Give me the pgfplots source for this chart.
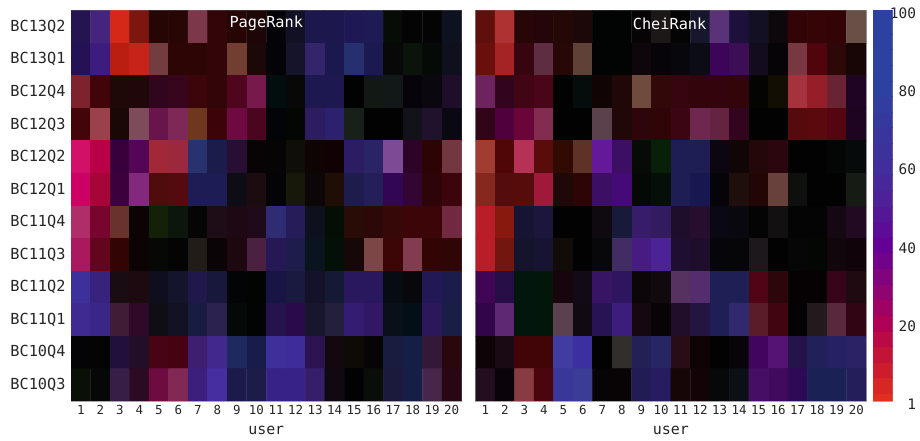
\documentclass[border=0pt]{standalone}
\usepackage{fontspec}
\setmainfont{DejaVu Sans Mono}
\usepackage{pgfplots}
\usepackage{pgfplotstable}
\pgfplotsset{compat=1.18}

\pgfplotstableread{
x y r g b
1 0 36 20 80
2 0 68 36 125
3 0 214 40 24
4 0 125 22 15
5 0 38 6 5
6 0 40 6 5
7 0 125 55 75
8 0 50 5 8
9 0 40 5 5
10 0 30 6 6
11 0 4 4 8
12 0 18 16 36
13 0 28 24 78
14 0 28 24 78
15 0 30 24 84
16 0 30 26 84
17 0 8 12 6
18 0 4 4 4
19 0 4 4 4
20 0 14 18 32
1 1 36 18 85
2 1 62 28 125
3 1 185 30 16
4 1 200 35 25
5 1 115 60 62
6 1 45 5 5
7 1 45 5 5
8 1 50 5 8
9 1 115 62 50
10 1 28 8 6
11 1 4 4 8
12 1 22 20 42
13 1 52 36 105
14 1 26 24 78
15 1 38 48 110
16 1 26 26 80
17 1 8 8 8
18 1 10 20 10
19 1 6 10 6
20 1 14 16 30
1 2 125 35 45
2 2 65 4 8
3 2 30 8 8
4 2 32 8 10
5 2 48 6 28
6 2 55 5 28
7 2 60 5 10
8 2 50 5 8
9 2 80 5 30
10 2 120 25 75
11 2 2 14 14
12 2 8 8 8
13 2 30 24 80
14 2 30 24 80
15 2 2 2 2
16 2 18 24 20
17 2 18 24 24
18 2 6 4 10
19 2 10 8 14
20 2 30 14 42
1 3 65 5 10
2 3 155 65 75
3 3 25 8 6
4 3 125 75 90
5 3 105 20 75
6 3 125 40 85
7 3 110 55 30
8 3 60 4 8
9 3 110 10 65
10 3 75 5 30
11 3 2 4 8
12 3 4 6 4
13 3 45 28 95
14 3 45 32 110
15 3 24 32 26
16 3 2 2 2
17 3 2 2 2
18 3 18 18 26
19 3 32 18 44
20 3 10 8 16
1 4 210 15 105
2 4 185 0 70
3 4 55 0 60
4 4 85 5 85
5 4 160 40 55
6 4 155 40 60
7 4 40 50 110
8 4 28 28 75
9 4 40 14 50
10 4 8 4 6
11 4 6 4 4
12 4 16 14 8
13 4 14 4 4
14 4 16 2 4
15 4 44 28 100
16 4 42 36 100
17 4 125 75 150
18 4 45 4 40
19 4 45 4 4
20 4 115 55 65
1 5 205 0 100
2 5 165 5 55
3 5 60 0 60
4 5 130 40 125
5 5 80 12 12
6 5 85 10 15
7 5 30 28 85
8 5 30 28 85
9 5 14 12 20
10 5 28 12 16
11 5 4 4 6
12 5 24 24 10
13 5 12 6 8
14 5 30 14 6
15 5 30 28 75
16 5 36 30 90
17 5 50 5 85
18 5 50 5 50
19 5 45 5 8
20 5 60 5 12
1 6 175 45 105
2 6 120 5 45
3 6 105 50 45
4 6 12 4 4
5 6 20 32 8
6 6 12 22 12
7 6 5 5 5
8 6 30 12 22
9 6 30 8 18
10 6 30 10 26
11 6 48 44 115
12 6 38 28 90
13 6 14 16 30
14 6 4 14 4
15 6 42 12 6
16 6 45 8 8
17 6 55 8 8
18 6 60 5 8
19 6 60 5 8
20 6 115 40 65
1 7 170 25 95
2 7 100 5 30
3 7 50 5 4
4 7 12 4 4
5 7 6 8 6
6 7 4 4 4
7 7 34 28 24
8 7 10 4 6
9 7 30 8 16
10 7 75 32 65
11 7 38 24 85
12 7 30 28 75
13 7 10 20 30
14 7 2 16 8
15 7 22 8 6
16 7 125 70 70
17 7 60 6 6
18 7 130 60 80
19 7 50 5 5
20 7 48 5 5
1 8 62 48 155
2 8 55 35 125
3 8 25 12 18
4 8 28 10 16
5 8 14 14 30
6 8 20 20 44
7 8 32 24 75
8 8 24 24 60
9 8 2 4 6
10 8 2 4 2
11 8 24 20 70
12 8 26 26 64
13 8 20 18 42
14 8 20 26 52
15 8 42 24 95
16 8 42 24 95
17 8 6 12 18
18 8 8 8 12
19 8 34 24 85
20 8 28 28 75
1 9 62 42 145
2 9 58 38 135
3 9 65 28 55
4 9 48 8 40
5 9 14 14 20
6 9 18 18 36
7 9 24 28 64
8 9 44 34 80
9 9 4 8 6
10 9 2 4 4
11 9 36 20 75
12 9 42 10 75
13 9 24 22 44
14 9 36 32 60
15 9 52 28 115
16 9 50 24 100
17 9 10 16 26
18 9 4 14 22
19 9 42 24 90
20 9 24 30 70
1 10 4 4 6
2 10 4 4 4
3 10 34 16 60
4 10 34 14 40
5 10 70 4 20
6 10 70 2 16
7 10 62 30 110
8 10 65 40 140
9 10 30 42 95
10 10 24 28 75
11 10 62 48 155
12 10 62 44 155
13 10 45 20 80
14 10 18 8 14
15 10 14 10 6
16 10 6 4 4
17 10 24 28 62
18 10 20 30 70
19 10 52 24 55
20 10 40 8 12
1 11 8 16 8
2 11 6 8 8
3 11 55 30 70
4 11 45 10 35
5 11 110 12 65
6 11 130 40 85
7 11 60 30 125
8 11 70 45 160
9 11 28 26 75
10 11 28 28 75
11 11 55 34 135
12 11 55 34 135
13 11 55 30 105
14 11 16 8 18
15 11 2 2 4
16 11 10 14 8
17 11 28 26 60
18 11 20 30 70
19 11 70 38 75
20 11 40 6 20
}\pagerank

\pgfplotstableread{
x y r g b
1 0 95 15 12
2 0 175 50 50
3 0 40 6 8
4 0 36 6 10
5 0 36 8 6
6 0 28 8 8
7 0 2 4 4
8 0 2 4 4
9 0 6 4 4
10 0 28 24 24
11 0 4 4 4
12 0 22 22 45
13 0 90 50 120
14 0 30 16 60
15 0 20 16 36
16 0 12 8 12
17 0 50 4 8
18 0 52 4 6
19 0 50 4 6
20 0 105 80 70
1 1 105 15 12
2 1 165 35 35
3 1 55 5 15
4 1 95 45 65
5 1 40 8 6
6 1 95 65 55
7 1 2 4 4
8 1 2 4 4
9 1 14 6 10
10 1 6 4 6
11 1 8 8 12
12 1 12 12 20
13 1 60 5 90
14 1 60 14 85
15 1 18 12 30
16 1 6 4 6
17 1 120 55 65
18 1 80 4 12
19 1 45 8 8
20 1 24 6 6
1 2 110 35 95
2 2 50 5 28
3 2 65 5 20
4 2 75 5 25
5 2 2 2 2
6 2 4 12 12
7 2 16 4 4
8 2 32 8 8
9 2 110 75 60
10 2 50 8 8
11 2 55 5 15
12 2 50 5 12
13 2 50 5 12
14 2 50 5 10
15 2 4 4 2
16 2 18 14 4
17 2 165 50 60
18 2 150 30 40
19 2 105 35 50
20 2 32 4 36
1 3 50 4 24
2 3 80 0 60
3 3 105 5 55
4 3 130 45 80
5 3 2 2 2
6 3 2 2 2
7 3 90 65 75
8 3 32 8 8
9 3 45 5 10
10 3 48 5 8
11 3 60 5 20
12 3 110 40 80
13 3 100 35 65
14 3 50 4 30
15 3 2 2 2
16 3 2 2 2
17 3 85 10 12
18 3 90 10 12
19 3 85 5 15
20 3 30 4 32
1 4 160 60 50
2 4 80 6 6
3 4 180 50 85
4 4 90 12 12
5 4 50 10 4
6 4 95 50 40
7 4 100 25 155
8 4 60 15 100
9 4 8 10 8
10 4 8 32 8
11 4 30 30 85
12 4 30 30 85
13 4 12 6 16
14 4 16 6 6
15 4 34 8 8
16 4 44 6 14
17 4 2 2 2
18 4 2 2 2
19 4 4 6 6
20 4 6 10 10
1 5 135 40 30
2 5 85 12 12
3 5 85 12 10
4 5 160 25 60
5 5 30 8 8
6 5 45 5 6
7 5 60 15 100
8 5 70 10 120
9 5 6 8 6
10 5 6 14 8
11 5 30 30 85
12 5 24 24 80
13 5 6 4 8
14 5 30 14 12
15 5 34 6 6
16 5 105 65 60
17 5 14 16 14
18 5 2 2 2
19 5 2 2 2
20 5 22 28 20
1 6 185 30 40
2 6 135 25 15
3 6 22 20 50
4 6 28 22 60
5 6 2 2 2
6 6 2 2 2
7 6 14 10 16
8 6 24 26 60
9 6 55 28 105
10 6 50 28 95
11 6 30 14 44
12 6 38 14 46
13 6 10 8 20
14 6 8 8 14
15 6 4 4 4
16 6 18 16 16
17 6 4 4 4
18 6 4 4 4
19 6 20 8 18
20 6 34 10 34
1 7 185 30 40
2 7 115 22 15
3 7 20 20 44
4 7 22 20 48
5 7 18 12 8
6 7 2 2 2
7 7 8 8 10
8 7 65 45 100
9 7 70 28 130
10 7 75 35 150
11 7 30 14 50
12 7 30 14 44
13 7 6 6 10
14 7 6 6 8
15 7 28 24 28
16 7 2 2 2
17 7 6 6 6
18 7 4 6 4
19 7 16 6 12
20 7 16 4 10
1 8 65 5 85
2 8 40 14 70
3 8 2 22 14
4 8 2 22 10
5 8 24 4 12
6 8 18 10 20
7 8 55 20 100
8 8 45 22 95
9 8 12 6 8
10 8 16 10 14
11 8 85 50 95
12 8 85 45 110
13 8 30 32 85
14 8 30 32 85
15 8 80 4 20
16 8 45 6 10
17 8 6 2 4
18 8 6 2 4
19 8 55 5 25
20 8 32 10 18
1 9 50 5 75
2 9 95 40 115
3 9 2 22 14
4 9 2 22 10
5 9 90 65 80
6 9 18 10 18
7 9 38 20 85
8 9 60 28 125
9 9 22 8 16
10 9 8 4 6
11 9 32 14 42
12 9 36 20 65
13 9 30 32 85
14 9 50 40 110
15 9 90 28 40
16 9 65 5 15
17 9 4 2 4
18 9 34 26 28
19 9 90 40 60
20 9 50 5 20
1 10 14 4 8
2 10 26 10 20
3 10 65 5 8
4 10 65 5 8
5 10 65 60 160
6 10 60 48 160
7 10 2 2 2
8 10 50 46 44
9 10 34 32 85
10 10 38 38 100
11 10 40 12 22
12 10 14 4 4
13 10 2 2 2
14 10 8 4 10
15 10 65 5 95
16 10 85 20 115
17 10 36 20 75
18 10 34 32 90
19 10 38 32 100
20 10 42 34 100
1 11 34 14 28
2 11 10 4 10
3 11 135 60 65
4 11 75 5 12
5 11 58 55 155
6 11 58 60 150
7 11 6 4 6
8 11 8 4 6
9 11 34 28 85
10 11 38 28 95
11 11 22 6 8
12 11 18 4 6
13 11 6 8 10
14 11 10 16 22
15 11 70 14 100
16 11 65 10 95
17 11 44 10 85
18 11 26 34 85
19 11 26 34 85
20 11 36 30 90
}\cheirank

\pgfplotstableread{
x y
0 0
1 0
0 4
1 4
0 8
1 8
0 12
1 12
0 16
1 16
0 20
1 20
0 24
1 24
0 28
1 28
0 32
1 32
0 36
1 36
0 40
1 40
0 44
1 44
0 48
1 48
0 52
1 52
0 56
1 56
0 60
1 60
0 64
1 64
0 68
1 68
0 72
1 72
0 76
1 76
0 80
1 80
0 84
1 84
0 88
1 88
0 92
1 92
0 96
1 96
0 100
1 100
}\barcells

\pgfplotsset{
    heat/.style={
        scale only axis,
        width=390.5bp, height=390.5bp,
        anchor=south west,
        xmin=0.5, xmax=20.5,
        ymin=-0.5, ymax=11.5,
        y dir=reverse,
        xtick={1,...,20},
        ytick={0,...,11},
        tick style={draw=none},
        major tick length=0pt,
        axis line style={draw=gray!70, line width=0.5pt},
        xlabel={user},
        xlabel style={font=\fontsize{15}{18}\selectfont, text=black!85, at={(axis description cs:0.5,0)}, anchor=center, yshift=-29bp},
        xticklabel style={font=\fontsize{12.5}{15}\selectfont, text=black!85, yshift=-1bp},
        yticklabel style={font=\fontsize{15.3}{18}\selectfont, text=black!85, xshift=-2bp},
        /pgf/number format/assume math mode=true,
    },
    rgbcell/.style={
        matrix plot*,
        mesh/cols=20,
        mesh/color input=explicit mathparse,
        point meta={symbolic={\thisrow{r}/255,\thisrow{g}/255,\thisrow{b}/255}},
    },
}

\begin{document}
\begin{tikzpicture}[x=1bp,y=1bp]
\useasboundingbox (0,0) rectangle (920,441);

\begin{axis}[heat, at={(71bp,40bp)},
    yticklabels={BC13Q2,BC13Q1,BC12Q4,BC12Q3,BC12Q2,BC12Q1,BC11Q4,BC11Q3,BC11Q2,BC11Q1,BC10Q4,BC10Q3},
]
\addplot[rgbcell] table {\pagerank};
\node[text=white, font=\fontsize{15.3}{18}\selectfont] at (axis description cs:0.5,0.967) {PageRank};
\end{axis}

\begin{axis}[heat, at={(475.5bp,40bp)}, yticklabels={}]
\addplot[rgbcell] table {\cheirank};
\node[text=white, font=\fontsize{15.3}{18}\selectfont] at (axis description cs:0.497,0.967) {CheiRank};
\end{axis}

\begin{axis}[
    scale only axis,
    width=19.5bp, height=390.5bp,
    anchor=south west,
    at={(873bp,40bp)},
    xmin=0, xmax=1,
    ymin=0, ymax=100,
    xtick=\empty,
    ytick={0,20,40,60,80,100},
    yticklabels={1,20,40,60,80,100},
    ytick pos=right,
    yticklabel pos=right,
    major tick length=0pt,
    tick style={draw=none},
    axis line style={draw=gray!70, line width=0.5pt},
    yticklabel style={font=\fontsize{14.5}{17}\selectfont, text=black!85, anchor=east, xshift=27bp, yshift=-3bp},
    /pgf/number format/assume math mode=true,
    colormap={hue}{
        rgb255(0)=(226,46,30)
        rgb255(10)=(200,25,48)
        rgb255(20)=(175,0,85)
        rgb255(30)=(135,5,120)
        rgb255(40)=(100,0,150)
        rgb255(50)=(80,30,150)
        rgb255(60)=(65,45,155)
        rgb255(80)=(45,65,160)
        rgb255(100)=(45,65,160)
    },
]
\addplot[matrix plot*, mesh/cols=2, point meta=y] table {\barcells};
\end{axis}
\end{tikzpicture}
\end{document}
